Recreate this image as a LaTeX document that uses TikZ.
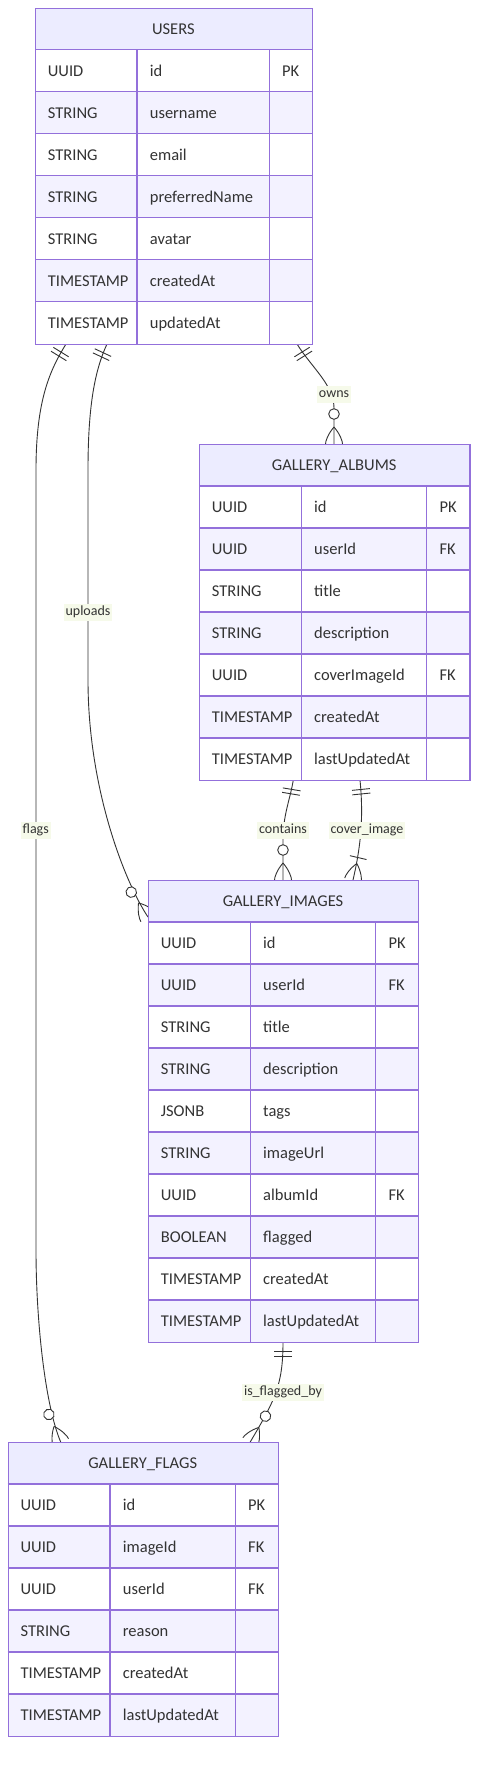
\documentclass[tikz,border=0pt]{standalone}
\usepackage{fontspec}
\setmainfont{Carlito}
\definecolor{hdrfill}{HTML}{ECECFF}
\definecolor{roweven}{HTML}{F3F2FF}
\definecolor{bord}{HTML}{9370DB}
\definecolor{txt}{HTML}{333333}
\definecolor{lineclr}{HTML}{333333}
\definecolor{lblbg}{HTML}{F6FAEA}
\tikzset{
  conn/.style={draw=lineclr, line width=0.9pt},
  lbl/.style={fill=lblbg, text=txt, font=\fontsize{14}{16}\selectfont, inner xsep=2pt, inner ysep=2pt, text height=9.5pt, text depth=3pt},
  celltext/.style={anchor=base west, text=txt, font=\fontsize{16.5}{19}\selectfont, inner sep=0pt},
  hdrtext/.style={anchor=base, text=txt, font=\fontsize{16.5}{19}\selectfont, inner sep=0pt},
  gridline/.style={draw=bord, line width=1.1pt},
  framebox/.style={draw=bord, line width=1.3pt, inner sep=0pt, anchor=north west},
  zmany/.pic={
    \draw[conn, fill=white] (-30,0) circle[radius=5.3pt];
    \draw[conn] (-17,0) .. controls (-10,6) and (-3,8.5) .. (0,8.5);
    \draw[conn] (-17,0) .. controls (-10,-6) and (-3,-8.5) .. (0,-8.5);
  },
  onemany/.pic={
    \draw[conn] (-23,-8.5) -- (-23,8.5);
    \draw[conn] (-17,0) .. controls (-10,6) and (-3,8.5) .. (0,8.5);
    \draw[conn] (-17,0) .. controls (-10,-6) and (-3,-8.5) .. (0,-8.5);
  },
  onlyone/.pic={
    \draw[conn] (-9.5,-9) -- (-9.5,9) (-14,-9) -- (-14,9);
  },
}
\newcommand{\ertable}[9]{%
  \pgfmathsetmacro{\xa}{#2}%
  \pgfmathsetmacro{\xb}{#2+#4}%
  \pgfmathsetmacro{\xc}{#2+#4+#5}%
  \pgfmathsetmacro{\xd}{#2+#4+#5+#6}%
  \pgfmathsetmacro{\ya}{#3}%
  \pgfmathsetmacro{\yb}{#3+42}%
  \pgfmathsetmacro{\ye}{#3+42+42*#7}%
  \pgfmathsetmacro{\tw}{#4+#5+#6}%
  \pgfmathsetmacro{\th}{42+42*#7}%
  \fill[hdrfill] (\xa,-\ya) rectangle (\xd,-\yb);
  \foreach[count=\i] \ta/\tb/\tc in {#9} {%
    \pgfmathsetmacro{\yt}{#3+42*\i}%
    \pgfmathsetmacro{\ym}{#3+42*\i+21+5.5}%
    \ifodd\i\def\rf{white}\else\def\rf{roweven}\fi
    \fill[\rf] (\xa,-\yt) rectangle (\xd,-\yt-42);
    \node[celltext] (#1-\i-t) at (\xa+12.7,-\ym) {\ta};
    \node[celltext] (#1-\i-n) at (\xb+12.7,-\ym) {\tb};
    \node[celltext] (#1-\i-k) at (\xc+12.7,-\ym) {\tc};
  }
  \foreach \i in {1,...,#7} {\draw[gridline] (\xa,{-(#3+42*\i)}) -- (\xd,{-(#3+42*\i)});}
  \draw[gridline] (\xb,-\yb) -- (\xb,-\ye) (\xc,-\yb) -- (\xc,-\ye);
  \node[hdrtext] (#1-title) at ({(\xa+\xd)/2},{-(\ya+21+5.5)}) {#8};
  \node[framebox, minimum width=\tw pt, minimum height=\th pt] (#1) at (\xa,-\ya) {};
}
\begin{document}
\begin{tikzpicture}[x=1pt,y=1pt]
\useasboundingbox (0,0) rectangle (485,-1773);
\fill[white] (0,0) rectangle (485,-1773);
% connector end points
\coordinate (u-own) at (297,-344);
\coordinate (a-own) at (334,-444);
\coordinate (u-up) at (107,-344);
\coordinate (i-up) at (148,-917);
\coordinate (u-fl) at (66,-344);
\coordinate (f-fl) at (60.7,-1442);
\coordinate (a-con) at (293.3,-780);
\coordinate (i-con) at (283,-880);
\coordinate (a-cov) at (360,-780);
\coordinate (i-cov) at (353,-880);
\coordinate (i-fl) at (283,-1342);
\coordinate (f-ifl) at (250.2,-1442);
% connectors
\draw[conn] (u-own) .. controls (312,-368) and (334,-385) .. (334,-408) -- (a-own);
\draw[conn] (u-up) .. controls (95,-370) and (88,-405) .. (88,-470) -- (88,-680) .. controls (88,-790) and (125.7,-883.8) .. (i-up);
\draw[conn] (u-fl) .. controls (50,-370) and (36,-400) .. (36,-470) -- (36,-1250) .. controls (36,-1320) and (45,-1405.2) .. (f-fl);
\draw[conn] (a-con) .. controls (290,-800) and (283,-815) .. (283,-840) -- (i-con);
\draw[conn] (a-cov) .. controls (364,-820) and (360,-850) .. (i-cov);
\draw[conn] (i-fl) .. controls (283,-1385) and (275,-1400) .. (f-ifl);
% labels
\node[lbl] (l-owns) at (334,-394.3) {owns};
\node[lbl] (l-uploads) at (88,-612.3) {uploads};
\node[lbl] (l-flags) at (35.7,-830.3) {flags};
\node[lbl] (l-contains) at (283,-830.3) {contains};
\node[lbl] (l-cover) at (367,-830.3) {cover\_image};
\node[lbl] (l-isflag) at (283,-1392.3) {is\_flagged\_by};
% markers
\pic[rotate=122] at (u-own) {onlyone};
\pic[rotate=-90] at (a-own) {zmany};
\pic[rotate=65] at (u-up) {onlyone};
\pic[rotate=-56.1] at (i-up) {zmany};
\pic[rotate=58.4] at (u-fl) {onlyone};
\pic[rotate=-66.8] at (f-fl) {zmany};
\pic[rotate=80.6] at (a-con) {onlyone};
\pic[rotate=-90] at (i-con) {zmany};
\pic[rotate=95.7] at (a-cov) {onlyone};
\pic[rotate=-103.1] at (i-cov) {onemany};
\pic[rotate=90] at (i-fl) {onlyone};
\pic[rotate=-120.6] at (f-ifl) {zmany};
% tables
\ertable{users}{35}{7.5}{102}{132.3}{42.4}{7}{USERS}{UUID/id/PK, STRING/username/{}, STRING/email/{}, STRING/preferredName/{}, STRING/avatar/{}, TIMESTAMP/createdAt/{}, TIMESTAMP/updatedAt/{}}
\ertable{albums}{199}{444}{102.3}{125.4}{42.6}{7}{GALLERY\_ALBUMS}{UUID/id/PK, UUID/userId/FK, STRING/title/{}, STRING/description/{}, UUID/coverImageId/FK, TIMESTAMP/createdAt/{}, TIMESTAMP/lastUpdatedAt/{}}
\ertable{images}{148}{880}{102.3}{125.4}{42.3}{10}{GALLERY\_IMAGES}{UUID/id/PK, UUID/userId/FK, STRING/title/{}, STRING/description/{}, JSONB/tags/{}, STRING/imageUrl/{}, UUID/albumId/FK, BOOLEAN/flagged/{}, TIMESTAMP/createdAt/{}, TIMESTAMP/lastUpdatedAt/{}}
\ertable{flags}{7.7}{1442}{102.3}{125.3}{42.4}{6}{GALLERY\_FLAGS}{UUID/id/PK, UUID/imageId/FK, UUID/userId/FK, STRING/reason/{}, TIMESTAMP/createdAt/{}, TIMESTAMP/lastUpdatedAt/{}}
\end{tikzpicture}
\end{document}
